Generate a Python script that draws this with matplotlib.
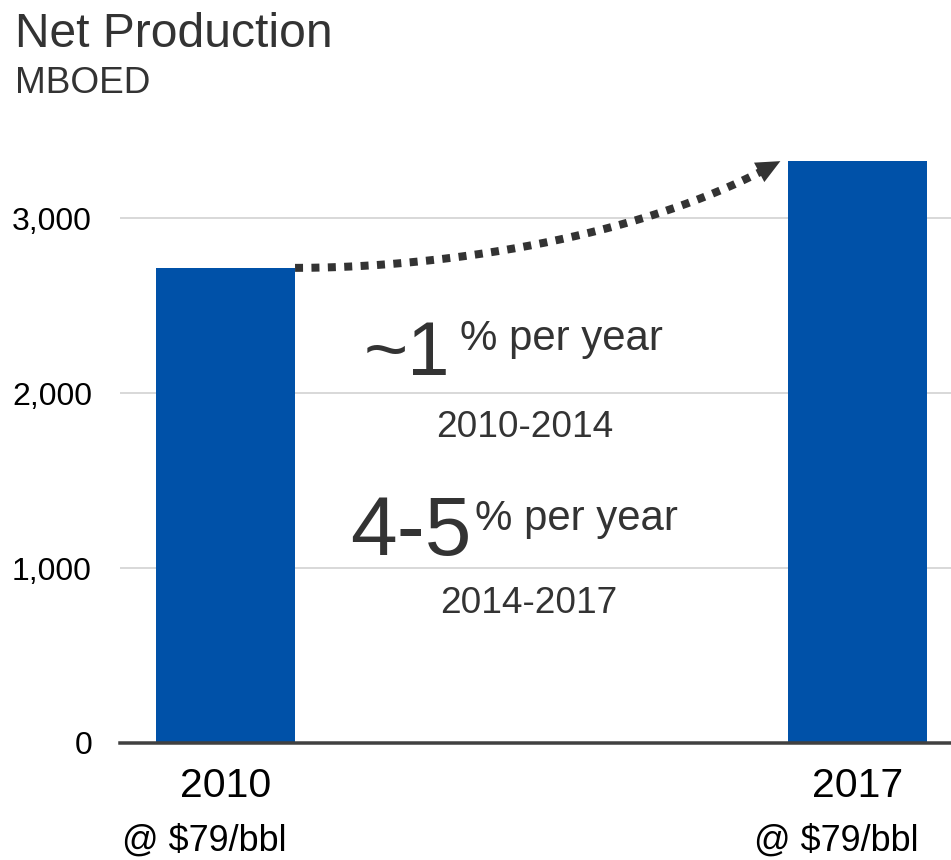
import numpy as np
import matplotlib
matplotlib.use("Agg")
import matplotlib.pyplot as plt
from matplotlib.patches import Polygon
from matplotlib.transforms import IdentityTransform

plt.rcParams['font.family'] = ['Liberation Sans', 'DejaVu Sans']

# ---- data ----
categories = ["2010", "2017"]
price_labels = ["@ $79/bbl", "@ $79/bbl"]
production = [2715, 3325]
yticks = [0, 1000, 2000, 3000]
ytick_labels = ["0", "1,000", "2,000", "3,000"]
title = "Net Production"
subtitle = "MBOED"

W, H, DPI = 951, 860, 72
fig = plt.figure(figsize=(W / DPI, H / DPI), dpi=DPI)
fig.patch.set_facecolor("white")

# axes in pixel geometry
ax_left, ax_right, ax_bottom, ax_top = 120, 951, 743, 148
ax = fig.add_axes([ax_left / W, 1 - ax_bottom / H, (ax_right - ax_left) / W, (ax_bottom - ax_top) / H])

x = np.arange(len(categories))
bar_w = 0.22
bar_color = "#0051A8"
ax.bar(x, production, width=bar_w, color=bar_color, zorder=3)

ax.set_ylim(0, 3400)
ax.set_xlim(-0.167, 1.148)
ax.set_yticks(yticks)
ax.set_yticklabels(ytick_labels, fontsize=32, color="black")
ax.tick_params(axis="y", length=0, pad=28)
ax.set_xticks([])
for s in ["top", "right", "left"]:
    ax.spines[s].set_visible(False)
ax.spines["bottom"].set_color("#404040")
ax.spines["bottom"].set_linewidth(3.5)
ax.spines["bottom"].set_zorder(4)
ax.yaxis.grid(True, color="#D9D9D9", linewidth=2, zorder=0)
ax.set_axisbelow(True)

# category labels
for xi, cat, pl in zip(x, categories, price_labels):
    ax.annotate(cat, xy=(xi, 0), xytext=(0, -54), textcoords="offset points",
                ha="center", va="baseline", fontsize=41, color="black")
    ax.annotate(pl, xy=(xi, 0), xytext=(-21, -108), textcoords="offset points",
                ha="center", va="baseline", fontsize=36, color="black", annotation_clip=False)

# dotted curved arrow from top of 2010 bar to top of 2017 bar
dark = "#333333"
p0 = (x[0] + bar_w / 2, production[0])
p3 = (x[1] - bar_w / 2 - 0.012, production[1])
p1 = (0.355, production[0])
p2 = (0.672, 2903)
P = np.array([p0, p1, p2, p3])
t = np.linspace(0, 1, 300)[:, None]
B = (1 - t) ** 3 * P[0] + 3 * (1 - t) ** 2 * t * P[1] + 3 * (1 - t) * t ** 2 * P[2] + t ** 3 * P[3]
Bd = ax.transData.transform(B)
tip = Bd[-1]
head_len, head_half = 24, 11
back = Bd[-20]
d = tip - back
d = d / np.hypot(*d)
nrm = np.array([-d[1], d[0]])
base = tip - d * head_len
dist = np.hypot(*(Bd - tip).T)
keep = dist >= head_len - 2
ax.plot(B[keep, 0], B[keep, 1], color=dark, lw=8, linestyle=(0, (1, 1.05)),
        solid_capstyle="butt", dash_capstyle="butt", zorder=5, clip_on=False)
tri = Polygon([tip, base + nrm * head_half, base - nrm * head_half], closed=True,
              facecolor=dark, edgecolor="none", transform=IdentityTransform(), zorder=6)
fig.patches.append(tri)

# growth annotations (figure pixel positions)
def ftext(px, py, s, size, **kw):
    fig.text(px / W, 1 - py / H, s, fontsize=size, color=dark, va="baseline", **kw)

ftext(364, 375, "~1", 76, ha="left")
ftext(460, 350, "% per year", 42, ha="left")
ftext(525, 437, "2010-2014", 37, ha="center")
ftext(350, 555, "4-5", 84, ha="left")
ftext(475, 530, "% per year", 42, ha="left")
ftext(529, 613, "2014-2017", 37, ha="center")

# titles
fig.text(15 / W, 1 - 47 / H, title, fontsize=48, color=dark, va="baseline", ha="left")
fig.text(15 / W, 1 - 93 / H, subtitle, fontsize=37, color=dark, va="baseline", ha="left")

fig.savefig("out.png", dpi=DPI, facecolor="white")
